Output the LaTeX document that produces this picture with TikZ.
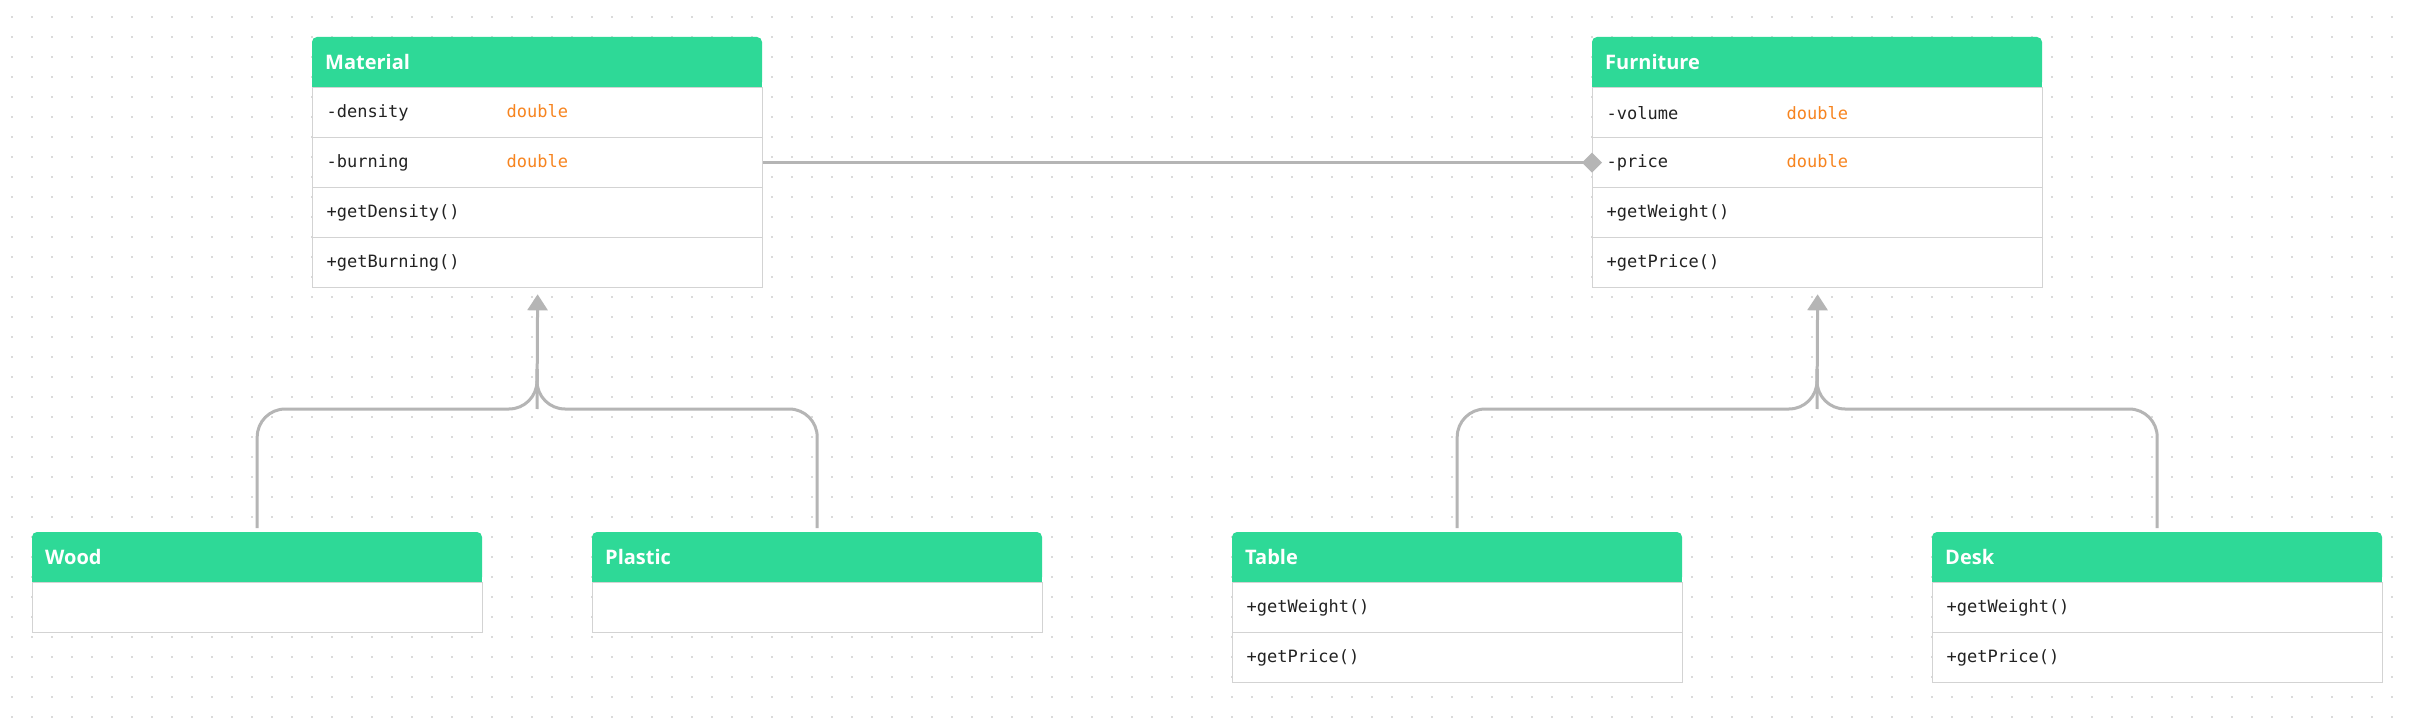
\documentclass[tikz,border=0pt]{standalone}
\usepackage{fontspec}
\setmainfont{Open Sans}
\newfontfamily\hdrfont{Open Sans}
\newfontfamily\codefont{DejaVu Sans Mono}
\usetikzlibrary{arrows.meta}
\definecolor{hdrgreen}{HTML}{2ED997}
\definecolor{typeorange}{HTML}{F7841F}
\definecolor{rowline}{HTML}{D3D3D3}
\definecolor{connc}{HTML}{B5B5B5}
\definecolor{dotc}{HTML}{DADADA}
\definecolor{codetext}{HTML}{222222}
\tikzset{
  hdr/.style={anchor=north west, minimum width=450pt, minimum height=50pt,
    text width=424pt, inner xsep=13pt, inner ysep=0pt, align=left,
    text=white, font=\hdrfont\bfseries\fontsize{20}{24}\selectfont},
  hdrfill/.style={fill=hdrgreen},
  row/.style={anchor=north west, draw=rowline, line width=1.3pt, fill=white,
    minimum width=450pt, minimum height=50pt, text width=422pt,
    inner xsep=14pt, inner ysep=0pt, align=left, text=codetext,
    font=\codefont\fontsize{17}{20}\selectfont},
  conn/.style={draw=connc, line width=3pt},
  dotrow/.style={draw=dotc, line width=2pt, dash pattern=on 2pt off 18pt},
}
\newcommand{\attr}[2]{\makebox[180pt][l]{#1}\textcolor{typeorange}{#2}}
\newcommand{\hdrbg}[2]{%
  \fill[hdrfill, rounded corners=5pt] (#1,#2) rectangle ++(450,50);
  \fill[hdrfill] (#1,#2+20) rectangle ++(450,30);}
\begin{document}
\begin{tikzpicture}[x=1pt,y=-1pt]
\useasboundingbox (0,0) rectangle (2410,719);
\fill[white] (0,0) rectangle (2410,719);
\foreach \j in {0,...,35} {
  \draw[dotrow] (11,17+20*\j) -- (2410,17+20*\j);
}

% Material
\hdrbg{312}{37}
\node[hdr] (mat) at (312,37) {Material};
\node[row] (mat-1) at (312,87) {\attr{-density}{double}};
\node[row] (mat-2) at (312,137) {\attr{-burning}{double}};
\node[row] (mat-3) at (312,187) {+getDensity()};
\node[row] (mat-4) at (312,237) {+getBurning()};

% Furniture
\hdrbg{1592}{37}
\node[hdr] (fur) at (1592,37) {Furniture};
\node[row] (fur-1) at (1592,87) {\attr{-volume}{double}};
\node[row] (fur-2) at (1592,137) {\attr{-price}{double}};
\node[row] (fur-3) at (1592,187) {+getWeight()};
\node[row] (fur-4) at (1592,237) {+getPrice()};

% Wood
\hdrbg{32}{532}
\node[hdr] (wood) at (32,532) {Wood};
\node[row] (wood-1) at (32,582) {};

% Plastic
\hdrbg{592}{532}
\node[hdr] (plastic) at (592,532) {Plastic};
\node[row] (plastic-1) at (592,582) {};

% Table
\hdrbg{1232}{532}
\node[hdr] (table) at (1232,532) {Table};
\node[row] (table-1) at (1232,582) {+getWeight()};
\node[row] (table-2) at (1232,632) {+getPrice()};

% Desk
\hdrbg{1932}{532}
\node[hdr] (desk) at (1932,532) {Desk};
\node[row] (desk-1) at (1932,582) {+getWeight()};
\node[row] (desk-2) at (1932,632) {+getPrice()};

% inheritance: Wood, Plastic -> Material
\coordinate (mj) at (537,409);
\draw[conn, rounded corners=28pt, shorten <=4pt] (wood.north) |- (mj) -- ++(0,-40);
\draw[conn, rounded corners=28pt, shorten <=4pt] (plastic.north) |- (mj) -- ++(0,-40);
\draw[conn, -{Triangle[width=20pt,length=16pt]}, shorten >=6pt] (mj) -- (mat-4.south);

% inheritance: Table, Desk -> Furniture
\coordinate (fj) at (1817,409);
\draw[conn, rounded corners=28pt, shorten <=4pt] (table.north) |- (fj) -- ++(0,-40);
\draw[conn, rounded corners=28pt, shorten <=4pt] (desk.north) |- (fj) -- ++(0,-40);
\draw[conn, -{Triangle[width=20pt,length=16pt]}, shorten >=6pt] (fj) -- (fur-4.south);

% association with diamond
\draw[conn, -{Diamond[width=20pt,length=20pt]}, shorten >=-10pt] (mat-2.east) -- (fur-2.west);
\end{tikzpicture}
\end{document}
